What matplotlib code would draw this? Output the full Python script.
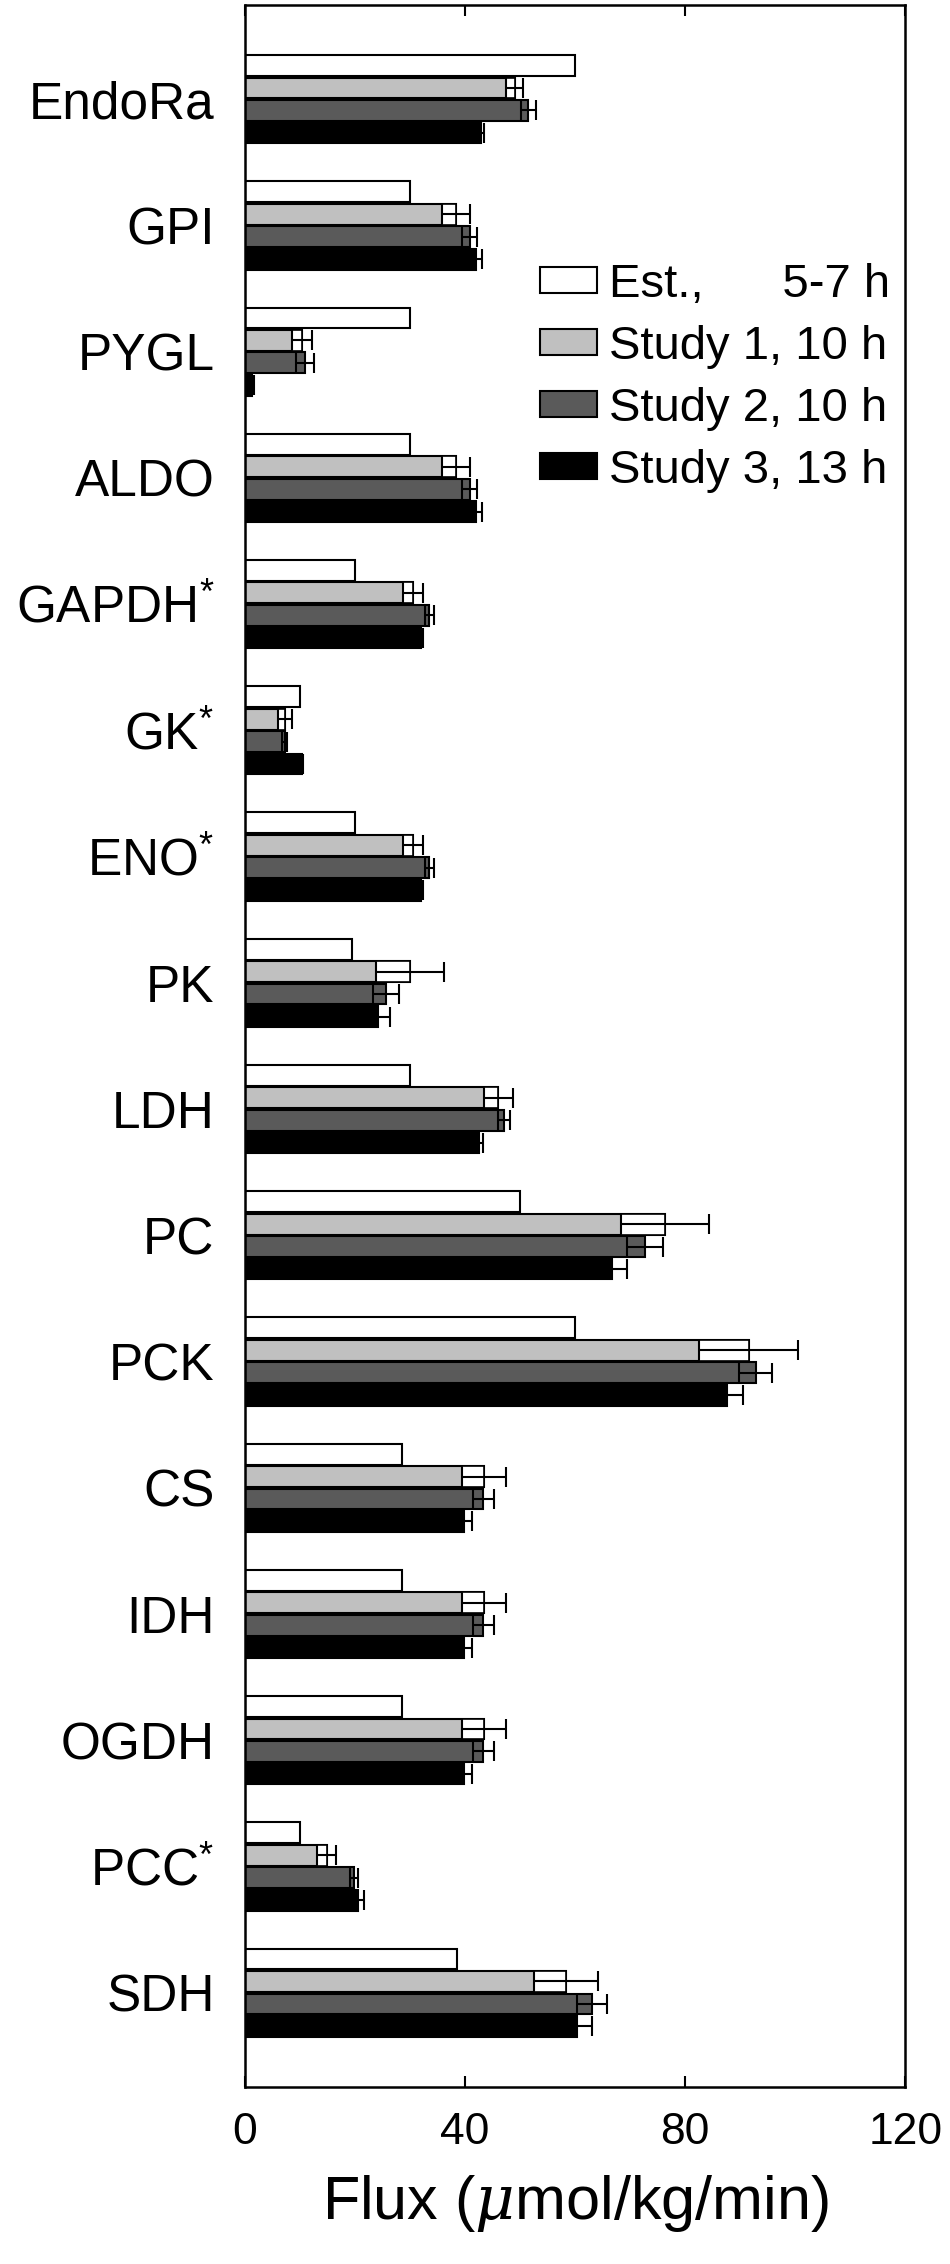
import numpy as np
import matplotlib
matplotlib.use('Agg')
import matplotlib.pyplot as plt
from matplotlib.patches import Patch

plt.rcParams['font.family'] = ['Liberation Sans', 'DejaVu Sans']
plt.rcParams['mathtext.fontset'] = 'custom'
plt.rcParams['mathtext.rm'] = 'Liberation Sans'
plt.rcParams['mathtext.it'] = 'DejaVu Serif:italic'

# Enzyme fluxes (umol/kg/min)
enzymes = ['EndoRa', 'GPI', 'PYGL', 'ALDO', 'GAPDH$^{*}$', 'GK$^{*}$', 'ENO$^{*}$', 'PK',
           'LDH', 'PC', 'PCK', 'CS', 'IDH', 'OGDH', 'PCC$^{*}$', 'SDH']
est = [60, 30, 30, 30, 20, 10, 20, 19.5, 30, 50, 60, 28.5, 28.5, 28.5, 10, 38.5]
study1 = [49, 38.3, 10.3, 38.3, 30.5, 7.3, 30.5, 30, 46, 76.3, 91.5, 43.5, 43.5, 43.5, 14.8, 58.3]
study1_err = [1.5, 2.5, 1.8, 2.5, 1.8, 1.3, 1.8, 6.2, 2.6, 8, 9, 4, 4, 4, 1.7, 5.8]
study2 = [51.5, 40.8, 10.9, 40.8, 33.5, 7.2, 33.5, 25.6, 47, 72.7, 92.8, 43.3, 43.3, 43.3, 19.8, 63]
study2_err = [1.3, 1.3, 1.6, 1.3, 0.8, 0.5, 0.8, 2.3, 1.1, 3.2, 3, 1.9, 1.9, 1.9, 0.8, 2.7]
study3 = [42.8, 42, 1.2, 42, 32, 10.3, 32, 24.2, 42.5, 66.7, 87.5, 39.8, 39.8, 39.8, 20.5, 60.3]
study3_err = [0.6, 1, 0.4, 1, 0.4, 0.3, 0.4, 2.2, 0.8, 2.7, 3, 1.4, 1.4, 1.4, 1.2, 2.7]

labels = ['Est.,      5-7 h', 'Study 1, 10 h', 'Study 2, 10 h', 'Study 3, 13 h']
colors = ['white', '#c0c0c0', '#5a5a5a', 'black']

fig = plt.figure(figsize=(9.5, 22.64), dpi=100)
ax = fig.add_axes([0.258, 0.078, 0.695, 0.920])

y = np.arange(1, len(enzymes) + 1)
pitch = 0.178
h = 0.165
series = [(est, None), (study1, study1_err), (study2, study2_err), (study3, study3_err)]
for i, (vals, err) in enumerate(series):
    yy = y + (i - 1.5) * pitch
    vals = np.array(vals, dtype=float)
    ax.barh(yy, vals, height=h, color=colors[i], edgecolor='black', linewidth=1.5, zorder=2)
    if err is not None:
        err = np.array(err, dtype=float)
        if i == 1:
            # lower half of the error band shows as an outlined box
            ax.barh(yy, err, left=vals - err, height=h, color='white',
                    edgecolor='black', linewidth=1.2, zorder=3)
        ax.errorbar(vals, yy, xerr=err, fmt='none', ecolor='black',
                    elinewidth=1.5, capsize=7, capthick=1.5, zorder=4)

ax.set_xlim(0, 120)
ax.set_ylim(16.75, 0.25)
ax.set_xticks([0, 40, 80, 120])
ax.set_yticks(y)
ax.set_yticklabels(enzymes, fontsize=37)
ax.tick_params(axis='x', labelsize=32, direction='in', length=8, width=1.5,
               top=True, pad=18)
ax.tick_params(axis='y', length=0, pad=22)
for s in ax.spines.values():
    s.set_linewidth(1.8)
ax.set_xlabel('Flux ($\\mu$mol/kg/min)', fontsize=44, labelpad=14)

handles = [Patch(facecolor=c, edgecolor='black', linewidth=1.5) for c in colors]
ax.legend(handles, labels, loc='upper left', bbox_to_anchor=(0.447, 0.876),
          frameon=False, fontsize=34, handlelength=1.2, handleheight=0.45,
          handletextpad=0.25, labelspacing=0.38, borderpad=0, borderaxespad=0)

fig.savefig('out.png', dpi=100)
